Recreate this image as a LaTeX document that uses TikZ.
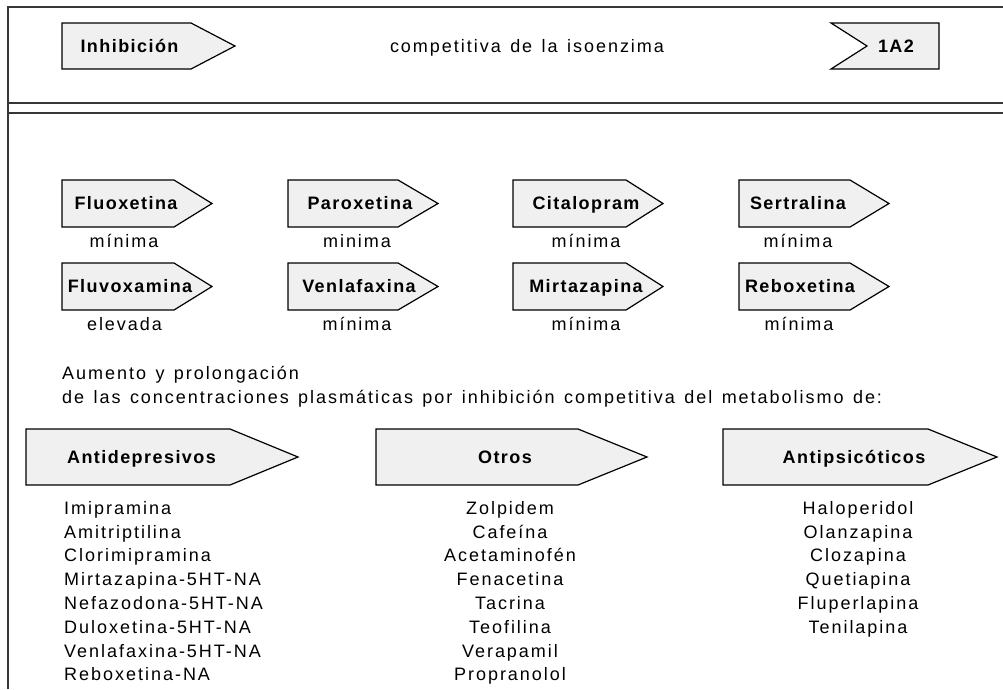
\documentclass[tikz,border=0pt]{standalone}
\usepackage{fontspec}
\setmainfont{Liberation Sans}
\newfontfamily\regsp[LetterSpace=11,WordSpace=1.35]{Liberation Sans}
\newfontfamily\boldsp[LetterSpace=8]{Liberation Sans}
\definecolor{boxgray}{RGB}{240,240,240}
\definecolor{rulegray}{RGB}{55,55,55}

% pentagon pointing right: left x, top y, body width, tip depth, height
\newcommand{\pointbox}[5]{%
  \filldraw[boxline] (#1,#2) -- ++(#3,0) -- ++(#4,{#5/2}) -- ++(-#4,{#5/2}) -- ++(-#3,0) -- cycle;}
% box with a notch cut into its left side: left x, top y, width, notch depth, height
\newcommand{\notchbox}[5]{%
  \filldraw[boxline] (#1,#2) -- ++(#3,0) -- ++(0,#5) -- ++(-#3,0) -- ++(#4,{-#5/2}) -- cycle;}

\begin{document}
\begin{tikzpicture}[x=1pt,y=-1pt,
  boxline/.style={draw=black, fill=boxgray, line width=1.2pt},
  rule/.style={draw=rulegray, line width=1.3pt},
  rtxt/.style={font=\regsp\fontsize{18}{21}\selectfont, inner sep=0pt},
  btxt/.style={font=\boldsp\bfseries\fontsize{18}{21}\selectfont, inner sep=0pt}]
\useasboundingbox (0,0) rectangle (1003,689);

% frame and double rule
\draw[rule] (8,689) -- (8,7) -- (1003,7);
\draw[rule] (8,103) -- (1003,103);
\draw[rule] (8,113) -- (1003,113);

% title band
\pointbox{62}{23}{129}{44}{46}
\notchbox{831}{23}{108}{36}{46}
\node[btxt, anchor=base] (inhib) at (129.5,52.5) {Inhibición};
\node[rtxt, anchor=base] (title) at (527,52.5) {competitiva de la isoenzima};
\node[btxt, anchor=base] (iso) at (896,52.5) {1A2};

% antidepressants and their inhibitory potency
\pointbox{62}{180}{112}{38}{47}
\pointbox{288}{180}{110}{40}{47}
\pointbox{513}{180}{113}{37}{47}
\pointbox{739}{180}{111}{39}{47}
\pointbox{62}{263}{112}{38}{47}
\pointbox{288}{263}{110}{40}{47}
\pointbox{513}{263}{113}{37}{47}
\pointbox{739}{263}{111}{39}{47}

\node[btxt, anchor=base] (fluox) at (126,209.5) {Fluoxetina};
\node[btxt, anchor=base] (parox) at (360,209.5) {Paroxetina};
\node[btxt, anchor=base] (cital) at (586,209.5) {Citalopram};
\node[btxt, anchor=base] (sertr) at (798,209.5) {Sertralina};
\node[btxt, anchor=base] (fluvo) at (130,292.5) {Fluvoxamina};
\node[btxt, anchor=base] (venla) at (359,292.5) {Venlafaxina};
\node[btxt, anchor=base] (mirta) at (586,292.5) {Mirtazapina};
\node[btxt, anchor=base] (rebox) at (800,292.5) {Reboxetina};

\node[rtxt, anchor=base] (fluox-l) at (124,247) {mínima};
\node[rtxt, anchor=base] (parox-l) at (357,247) {minima};
\node[rtxt, anchor=base] (cital-l) at (586,247) {mínima};
\node[rtxt, anchor=base] (sertr-l) at (798,247) {mínima};
\node[rtxt, anchor=base] (fluvo-l) at (124.5,330) {elevada};
\node[rtxt, anchor=base] (venla-l) at (357,330) {mínima};
\node[rtxt, anchor=base] (mirta-l) at (586,330) {mínima};
\node[rtxt, anchor=base] (rebox-l) at (799,330) {mínima};

% explanatory sentence
\node[rtxt, anchor=base west] (note1) at (62,379) {Aumento y prolongación};
\node[rtxt, anchor=base west] (note2) at (62,403) {de las concentraciones plasmáticas por inhibición competitiva del metabolismo de:};

% drug groups
\pointbox{26}{429}{204}{68}{56}
\pointbox{376}{429}{202}{69}{56}
\pointbox{723}{429}{205}{69}{56}
\node[btxt, anchor=base] (antidep) at (141.5,463.5) {Antidepresivos};
\node[btxt, anchor=base] (otros) at (505,463.5) {Otros};
\node[btxt, anchor=base] (antips) at (854,463.5) {Antipsicóticos};

\foreach \t [count=\i] in {Imipramina, Amitriptilina, Clorimipramina,
    Mirtazapina-5HT-NA, Nefazodona-5HT-NA, Duloxetina-5HT-NA,
    Venlafaxina-5HT-NA, Reboxetina-NA}
  \node[rtxt, anchor=base west] (ad\i) at (64,{514.3+(\i-1)*23.8}) {\t};

\foreach \t [count=\i] in {Zolpidem, Cafeína, Acetaminofén, Fenacetina,
    Tacrina, Teofilina, Verapamil, Propranolol}
  \node[rtxt, anchor=base] (ot\i) at (510,{514.3+(\i-1)*23.8}) {\t};

\foreach \t [count=\i] in {Haloperidol, Olanzapina, Clozapina, Quetiapina,
    Fluperlapina, Tenilapina}
  \node[rtxt, anchor=base] (ap\i) at (858,{514.3+(\i-1)*23.8}) {\t};
\end{tikzpicture}
\end{document}
